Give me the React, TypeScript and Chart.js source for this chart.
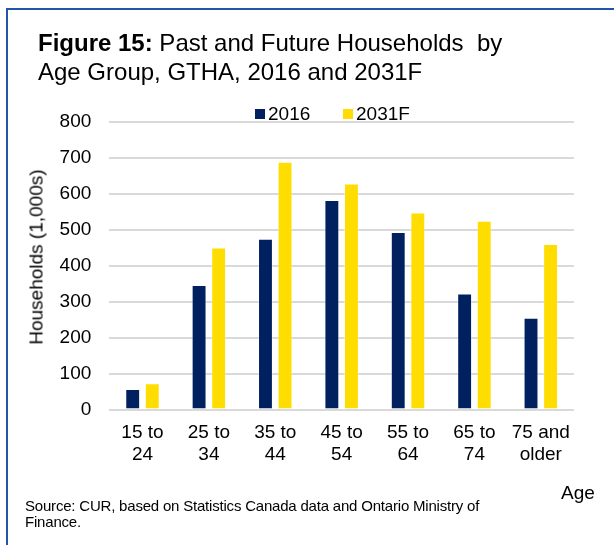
import React, { useEffect, useRef } from "react";
import { Chart, registerables } from "chart.js";

Chart.register(...registerables);

const categories: string[][] = [
  ["15 to", "24"],
  ["25 to", "34"],
  ["35 to", "44"],
  ["45 to", "54"],
  ["55 to", "64"],
  ["65 to", "74"],
  ["75 and", "older"],
];
const values2016: number[] = [57, 346, 474, 582, 493, 322, 255];
const values2031F: number[] = [73, 450, 688, 628, 547, 524, 460];
const seriesNames: string[] = ["2016", "2031F"];
const yTicks: number[] = [0, 100, 200, 300, 400, 500, 600, 700, 800];

const NAVY = "#002060";
const YELLOW = "#FFDD00";
const FONT = "'Liberation Sans', Arial, sans-serif";

function topFor(baseline: number, size: number): number {
  return baseline - 0.8465 * size;
}

export default function App() {
  const canvasRef = useRef<HTMLCanvasElement | null>(null);

  useEffect(() => {
    const canvas = canvasRef.current;
    if (!canvas) return;
    const chart = new Chart(canvas, {
      type: "bar",
      data: {
        labels: categories,
        datasets: [
          {
            label: seriesNames[0],
            data: values2016,
            backgroundColor: NAVY,
            borderColor: "rgba(255,255,255,0.35)",
            borderWidth: 1,
            categoryPercentage: 0.59,
            barPercentage: 0.76,
          },
          {
            label: seriesNames[1],
            data: values2031F,
            backgroundColor: YELLOW,
            borderColor: "rgba(255,255,255,0.35)",
            borderWidth: 1,
            categoryPercentage: 0.59,
            barPercentage: 0.76,
          },
        ],
      },
      options: {
        animation: false,
        responsive: false,
        maintainAspectRatio: false,
        devicePixelRatio: 1,
        layout: { padding: { left: 0, top: 121.5, right: 40, bottom: 0 } },
        plugins: {
          legend: { display: false },
          title: { display: false },
          tooltip: { enabled: false },
        },
        scales: {
          x: {
            grid: { display: false, drawTicks: false, tickLength: 0 },
            border: { display: false },
            ticks: {
              color: "#000",
              font: { family: FONT, size: 19, lineHeight: 1.14 },
              padding: 12.5,
              maxRotation: 0,
              minRotation: 0,
              autoSkip: false,
            },
            afterFit: (scale: any) => {
              scale.height = 135.5;
            },
          },
          y: {
            min: 0,
            max: 800,
            afterBuildTicks: (scale: any) => {
              scale.ticks = yTicks.map((v) => ({ value: v }));
            },
            grid: {
              color: "#D9D9D9",
              lineWidth: 2,
              drawTicks: false,
              tickLength: 0,
            },
            border: { display: false },
            ticks: {
              color: "#000",
              font: { family: FONT, size: 19 },
              padding: 18,
            },
            afterFit: (scale: any) => {
              scale.width = 109.3;
            },
          },
        },
      },
    });
    return () => chart.destroy();
  }, []);

  const text: React.CSSProperties = {
    position: "absolute",
    fontFamily: FONT,
    color: "#000",
    whiteSpace: "pre",
    margin: 0,
  };

  return (
    <div
      style={{
        position: "absolute",
        left: 0,
        top: 0,
        width: 614,
        height: 545,
        background: "#fff",
        overflow: "hidden",
      }}
    >
      <div
        style={{
          position: "absolute",
          left: 6,
          top: 8,
          width: 640,
          height: 600,
          borderLeft: "2px solid #1F56A8",
          borderTop: "2px solid #1F56A8",
        }}
      />
      <canvas
        ref={canvasRef}
        width={614}
        height={545}
        style={{ position: "absolute", left: 0, top: 0, width: 614, height: 545 }}
      />
      <div
        style={{
          ...text,
          left: 38,
          top: 29.1,
          fontSize: 24,
          lineHeight: "28.5px",
        }}
      >
        <span style={{ fontWeight: "bold" }}>Figure 15:</span>
        {" Past and Future Households  by\nAge Group, GTHA, 2016 and 2031F"}
      </div>
      <div style={{ position: "absolute", left: 255, top: 109, width: 10, height: 10, background: NAVY }} />
      <div style={{ ...text, left: 268, top: topFor(120, 19), fontSize: 19, lineHeight: "19px" }}>
        {seriesNames[0]}
      </div>
      <div style={{ position: "absolute", left: 343, top: 109, width: 10, height: 10, background: YELLOW }} />
      <div style={{ ...text, left: 356, top: topFor(120, 19), fontSize: 19, lineHeight: "19px" }}>
        {seriesNames[1]}
      </div>
      <div
        style={{
          ...text,
          left: 35.5,
          top: 256.5,
          fontSize: 19,
          lineHeight: "19px",
          transform: "translate(-50%, -50%) rotate(-90deg)",
        }}
      >
        Households (1,000s)
      </div>
      <div style={{ ...text, left: 561, top: topFor(499.3, 19), fontSize: 19, lineHeight: "19px" }}>
        Age
      </div>
      <div
        style={{
          ...text,
          left: 25,
          top: 497.5,
          fontSize: 15,
          lineHeight: "16px",
          letterSpacing: "-0.2px",
        }}
      >
        {"Source: CUR, based on Statistics Canada data and Ontario Ministry of\nFinance."}
      </div>
    </div>
  );
}
